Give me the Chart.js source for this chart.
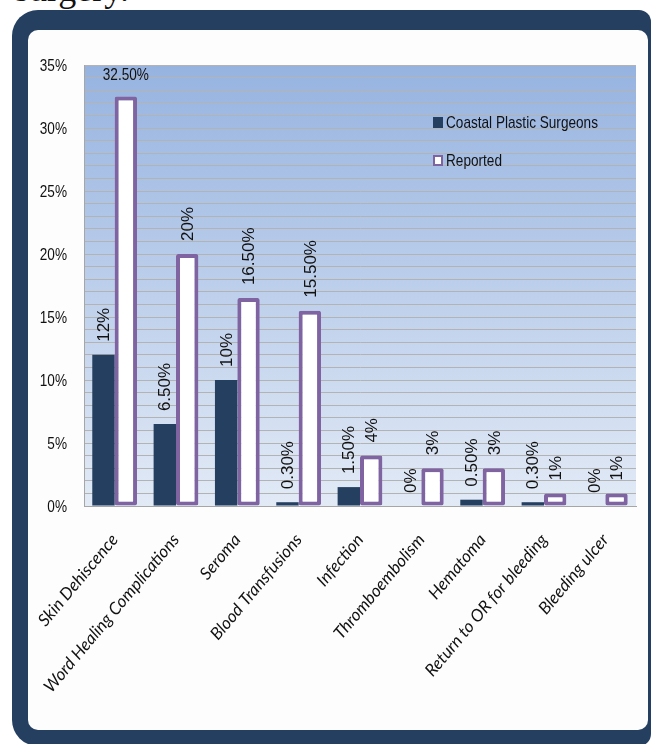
<!DOCTYPE html>
<html>
<head>
<meta charset="utf-8">
<script src="https://cdn.jsdelivr.net/npm/chart.js@4.4.1/dist/chart.umd.min.js"></script>
<style>
    html, body { margin: 0; padding: 0; background: #fff; }
    body { width: 652px; height: 744px; position: relative; overflow: hidden; }
    .caption { position: absolute; left: 15px; top: -29px; font: 36px/36px 'Liberation Serif', serif; color: #111; }
    .frame { position: absolute; left: 12px; top: 10px; width: 639px; height: 736px; background: #243f60; border-radius: 26px 12px 12px 26px; }
    .panel { position: absolute; left: 28px; top: 30px; width: 620px; height: 700px; background: #fdfdfd; border-radius: 10px; }
</style>
</head>
<body>
<div class="caption">surgery.</div>
<div class="frame"></div>
<div class="panel"><canvas id="complicationsChart"></canvas></div>

<script>
// categories and values
const categories = ['Skin Dehiscence', 'Word Healing Complications', 'Seroma', 'Blood Transfusions',
    'Infection', 'Thromboembolism', 'Hematoma', 'Return to OR for bleeding', 'Bleeding ulcer'];
const coastalValues = [12, 6.5, 10, 0.3, 1.5, 0, 0.5, 0.3, 0];
const reportedValues = [32.5, 20, 16.5, 15.5, 4, 3, 3, 1, 1];
const yMax = 35;
const yLabelStep = 5;

const navy = '#243f60';
const purple = '#8064a2';
const textColor = '#111';
// no narrow face installed: Liberation Sans squeezed like Arial Narrow
const narrowFont = "17px 'Liberation Sans', sans-serif";
const narrowScale = 0.8;
const valueFont = "17px 'Liberation Sans', sans-serif";

function pct(v) {
    return Number.isInteger(v) ? v + '%' : v.toFixed(2) + '%';
}

function narrowText(ctx, text, x, y, align, baseline) {
    ctx.save();
    ctx.translate(x, y);
    ctx.scale(narrowScale, 1);
    ctx.font = narrowFont;
    ctx.textAlign = align;
    ctx.textBaseline = baseline;
    ctx.fillText(text, 0, 0);
    ctx.restore();
}

//#region plugins
// gradient behind the plot area
const plotBackground = {
    id: 'plotBackground',
    beforeDraw(chart) {
        const { ctx, chartArea: a } = chart;
        const g = ctx.createLinearGradient(0, a.top, 0, a.bottom);
        g.addColorStop(0, '#96b3e0');
        g.addColorStop(1, '#e2eaf6');
        ctx.save();
        ctx.fillStyle = g;
        ctx.fillRect(a.left, a.top, a.right - a.left, a.bottom - a.top);
        ctx.restore();
    }
};

// y tick labels every 5%, in the narrow face
const yLabels = {
    id: 'yLabels',
    afterDraw(chart) {
        const { ctx, chartArea: a } = chart;
        const scale = chart.scales.y;
        ctx.save();
        ctx.fillStyle = textColor;
        scale.ticks.forEach(t => {
            if (t.value % yLabelStep !== 0) return;
            narrowText(ctx, t.value + '%', a.left - 17, scale.getPixelForValue(t.value) + 1, 'right', 'middle');
        });
        ctx.restore();
    }
};

// value labels above bars (vertical unless they would leave the plot)
const barLabels = {
    id: 'barLabels',
    afterDatasetsDraw(chart) {
        const ctx = chart.ctx;
        const top = chart.chartArea.top;
        ctx.save();
        ctx.fillStyle = textColor;
        chart.data.datasets.forEach((ds, di) => {
            chart.getDatasetMeta(di).data.forEach((bar, i) => {
                const text = pct(ds.data[i]);
                const y = bar.y - 13;
                ctx.font = valueFont;
                const w = ctx.measureText(text).width;
                if (y - w < top) {
                    narrowText(ctx, text, bar.x, y, 'center', 'bottom');
                } else {
                    ctx.save();
                    ctx.translate(bar.x + 1, y);
                    ctx.rotate(-Math.PI / 2);
                    ctx.textAlign = 'left';
                    ctx.textBaseline = 'middle';
                    ctx.fillText(text, 0, 0);
                    ctx.restore();
                }
            });
        });
        ctx.restore();
    }
};

// legend sits inside the plot, upper right
const innerLegend = {
    id: 'innerLegend',
    afterDraw(chart) {
        const { ctx, chartArea: a } = chart;
        const x = a.right - 203;
        let y = a.top + 57;
        ctx.save();
        chart.data.datasets.forEach(ds => {
            if (ds.borderWidth) {
                ctx.fillStyle = ds.borderColor;
                ctx.fillRect(x, y - 5, 10, 11);
                ctx.fillStyle = ds.backgroundColor;
                ctx.fillRect(x + 2, y - 3, 6, 7);
            } else {
                ctx.fillStyle = ds.backgroundColor;
                ctx.fillRect(x, y - 5, 10, 11);
            }
            ctx.fillStyle = textColor;
            narrowText(ctx, ds.label, x + 13, y + 1, 'left', 'middle');
            y += 38;
        });
        ctx.restore();
    }
};
//#endregion plugins

const ctx = document.getElementById('complicationsChart').getContext('2d');

new Chart(ctx, {
    type: 'bar',
    data: {
        labels: categories,
        datasets: [{
            label: 'Coastal Plastic Surgeons',
            data: coastalValues,
            backgroundColor: navy,
            borderWidth: 0
        }, {
            label: 'Reported',
            data: reportedValues,
            backgroundColor: '#ffffff',
            borderColor: purple,
            borderWidth: 4,
            borderSkipped: false,
            borderRadius: 2
        }]
    },
    options: {
        responsive: true,
        maintainAspectRatio: false,
        animation: false,
        layout: { padding: { top: 35, right: 12, left: 0, bottom: 0 } },
        datasets: {
            bar: { barPercentage: 1, categoryPercentage: 0.73 }
        },
        plugins: {
            legend: { display: false },
            tooltip: { enabled: false }
        },
        scales: {
            x: {
                grid: { display: false },
                border: { color: '#a6a6a6' },
                ticks: {
                    autoSkip: false,
                    maxRotation: 50,
                    minRotation: 50,
                    padding: 16,
                    color: textColor,
                    font: { family: 'Lato', style: 'italic', size: 17 }
                },
                afterFit(scale) {
                    scale.height = 224;
                    // rotated first label may hang past the axis; don't let it push the plot
                    scale.paddingLeft = 0;
                    scale.paddingRight = 0;
                }
            },
            y: {
                min: 0,
                max: yMax,
                grid: { color: '#b3b3b3', drawTicks: false },
                border: { color: '#a6a6a6' },
                ticks: {
                    display: false,
                    stepSize: 1,
                    autoSkip: false,
                    maxTicksLimit: 40
                },
                afterFit(scale) { scale.width = 56; }
            }
        }
    },
    plugins: [plotBackground, yLabels, barLabels, innerLegend]
});
</script>
</body>
</html>
